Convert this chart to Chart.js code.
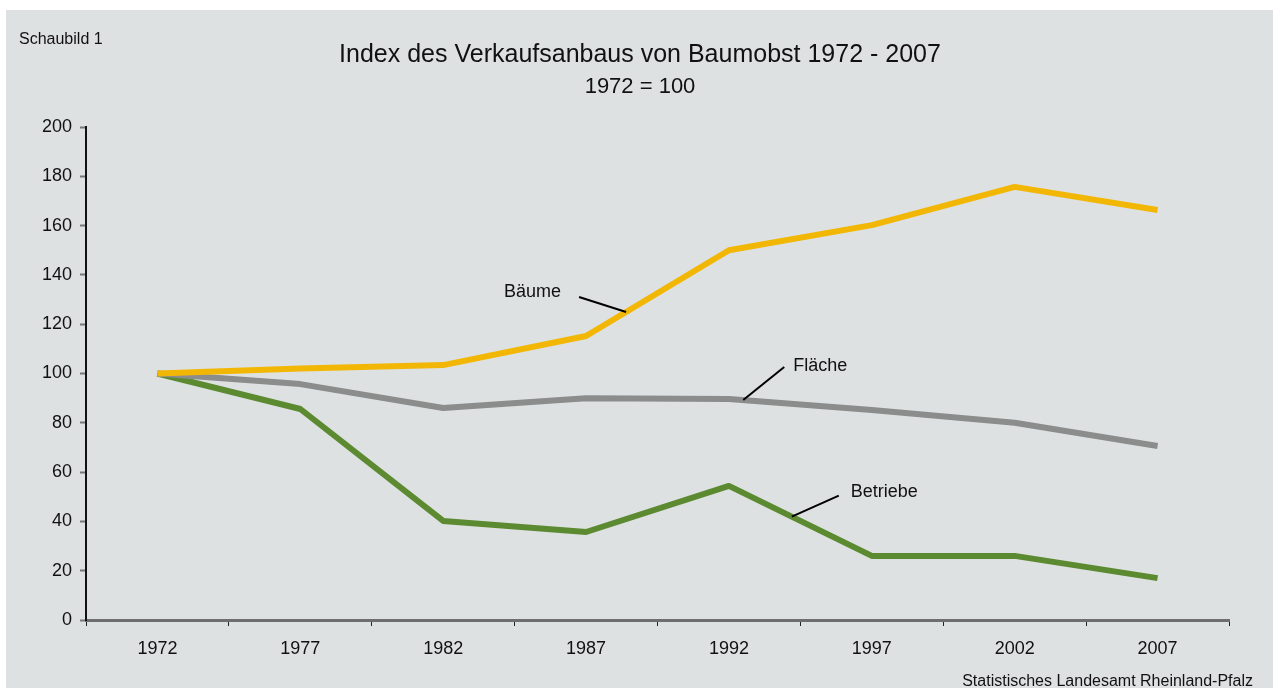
<!DOCTYPE html>
<html>
<head>
<meta charset="utf-8">
<script src="https://cdn.jsdelivr.net/npm/chart.js@4"></script>
<style>
  html, body { margin: 0; padding: 0; background: #ffffff; }
  #wrap { position: absolute; left: 6px; top: 10px; width: 1267px; height: 678px; background: #dee1e2; }
  canvas { display: block; }
</style>
</head>
<body>
<div id="wrap"><canvas id="chart" width="1267" height="678"></canvas></div>
<script>
// data
const years = ['1972', '1977', '1982', '1987', '1992', '1997', '2002', '2007']
const baeume = [100, 102, 103.4, 115.2, 150, 160.2, 175.7, 166.3]
const flaeche = [100, 95.7, 86, 90, 89.7, 85.2, 80, 70.6]
const betriebe = [100, 85.6, 40.2, 35.7, 54.4, 26, 26, 17]
const yTicks = [0, 20, 40, 60, 80, 100, 120, 140, 160, 180, 200]

const font = '"Liberation Sans", Arial, Helvetica, sans-serif'

// labels with leader lines, anchored on a line at a fractional category index
const callouts = [
  { text: 'Bäume', series: baeume, at: 3.28, line: [-47, -15], txt: [-65, -20], align: 'right' },
  { text: 'Fläche', series: flaeche, at: 4.10, line: [41, -33], txt: [50, -34], align: 'left' },
  { text: 'Betriebe', series: betriebe, at: 4.44, line: [47, -21], txt: [59, -25], align: 'left' }
]

function valueAt(series, idx) {
  let i = Math.floor(idx)
  let f = idx - i
  return series[i] + f * (series[i + 1] - series[i])
}

const decorations = {
  id: 'decorations',
  afterDatasetsDraw(chart) {
    let ctx = chart.ctx
    let x = chart.scales.x
    let y = chart.scales.y
    ctx.save()
    ctx.fillStyle = '#111'
    ctx.textBaseline = 'middle'

    ctx.font = '25px ' + font
    ctx.textAlign = 'center'
    ctx.fillText('Index des Verkaufsanbaus von Baumobst 1972 - 2007', 634, 45)
    ctx.font = '22px ' + font
    ctx.fillText('1972 = 100', 634, 77)

    ctx.font = '16px ' + font
    ctx.textAlign = 'left'
    ctx.fillText('Schaubild 1', 13, 30)
    ctx.textAlign = 'right'
    ctx.fillText('Statistisches Landesamt Rheinland-Pfalz', 1247, 672)

    ctx.font = '18px ' + font
    ctx.strokeStyle = '#000'
    ctx.lineWidth = 2
    callouts.forEach(c => {
      let ax = x.getPixelForValue(c.at)
      let ay = y.getPixelForValue(valueAt(c.series, c.at))
      ctx.beginPath()
      ctx.moveTo(ax + c.line[0], ay + c.line[1])
      ctx.lineTo(ax, ay)
      ctx.stroke()
      ctx.textAlign = c.align
      ctx.fillText(c.text, ax + c.txt[0], ay + c.txt[1])
    })
    ctx.restore()
  }
}

new Chart(document.getElementById('chart'), {
  type: 'line',
  data: {
    labels: years,
    datasets: [
      { label: 'Bäume', data: baeume, borderColor: '#f2b705' },
      { label: 'Fläche', data: flaeche, borderColor: '#8b8c8c' },
      { label: 'Betriebe', data: betriebe, borderColor: '#5b8a30' }
    ]
  },
  options: {
    responsive: false,
    animation: false,
    layout: { padding: { left: 0, right: 44, top: 117, bottom: 0 } },
    elements: {
      line: { borderWidth: 6, tension: 0, borderJoinStyle: 'round', borderCapStyle: 'butt' },
      point: { radius: 0 }
    },
    plugins: {
      legend: { display: false },
      tooltip: { enabled: false }
    },
    scales: {
      x: {
        offset: true,
        afterFit: s => { s.height = 68 },
        grid: { offset: true, drawOnChartArea: false, tickLength: 6, tickColor: '#222', tickWidth: 1 },
        border: { color: '#6e6e6e', width: 3 },
        ticks: { color: '#111', font: { family: font, size: 18 }, padding: 12, maxRotation: 0 }
      },
      y: {
        min: 0,
        max: 200,
        afterFit: s => { s.width = 80 },
        afterBuildTicks: s => { s.ticks = yTicks.map(v => ({ value: v })) },
        grid: { drawOnChartArea: false, tickLength: 6, tickColor: '#777', tickWidth: 2 },
        border: { color: '#111', width: 2 },
        ticks: { color: '#111', font: { family: font, size: 18 }, padding: 8 }
      }
    }
  },
  plugins: [decorations]
})
</script>
</body>
</html>
